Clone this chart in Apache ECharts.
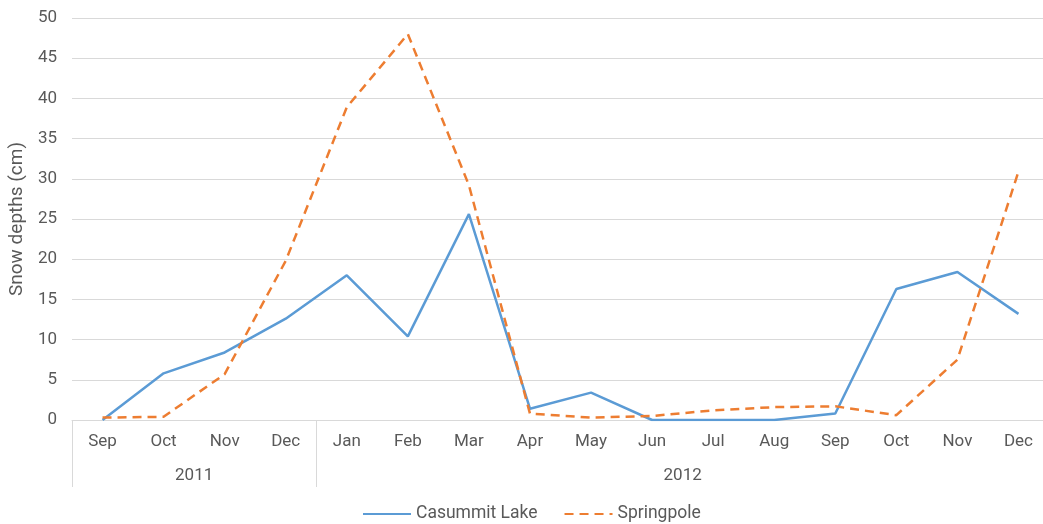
<!DOCTYPE html>
<html>
<head>
<meta charset="utf-8">
<script src="https://cdn.jsdelivr.net/npm/echarts@6/dist/echarts.min.js"></script>
<style>html,body{margin:0;padding:0;background:#fff}#c{width:1043px;height:524px}</style>
</head>
<body>
<div id="c"></div>
<script>
const months = ['Sep','Oct','Nov','Dec','Jan','Feb','Mar','Apr','May','Jun','Jul','Aug','Sep','Oct','Nov','Dec'];
const monthYears = ['2011','2011','2011','2011','2012','2012','2012','2012','2012','2012','2012','2012','2012','2012','2012','2012'];
const casummitLake = [0, 5.8, 8.4, 12.6, 18.0, 10.4, 25.6, 1.4, 3.4, 0, 0, 0, 0.8, 16.3, 18.4, 13.2];
const springpole = [0.3, 0.4, 5.7, 19.8, 38.9, 48.0, 29.2, 0.8, 0.3, 0.5, 1.2, 1.6, 1.7, 0.6, 7.5, 30.9];
const yTicks = {min: 0, max: 50, interval: 5};

// group boundaries for year level
const groups = [];
monthYears.forEach((y, i) => {
  if (!groups.length || groups[groups.length - 1].name !== y) groups.push({name: y, start: i, end: i + 1});
  else groups[groups.length - 1].end = i + 1;
});
const boundaries = [0].concat(groups.map(g => g.end));
const centers = groups.map(g => (g.start + g.end) / 2);

const textColor = '#595959';
const gridColor = '#D9D9D9';
const font = 'Roboto';

const chart = echarts.init(document.getElementById('c'), null, {renderer: 'canvas'});
chart.setOption({
  animation: false,
  textStyle: {fontFamily: font},
  grid: {left: 72, top: 18, width: 977, bottom: 104, containLabel: false, outerBoundsMode: 'none'},
  legend: {
    top: 505, left: 362, padding: 0, itemWidth: 48, itemHeight: 14, itemGap: 26,
    itemStyle: {opacity: 0},
    textStyle: {color: textColor, fontSize: 17.5, fontFamily: font},
    data: ['Casummit Lake', 'Springpole']
  },
  xAxis: [
    {
      type: 'category', data: months, boundaryGap: true,
      axisLine: {show: true, lineStyle: {color: gridColor, width: 1}},
      axisTick: {show: false},
      axisLabel: {color: textColor, fontSize: 17, margin: 13, interval: 0, fontFamily: font}
    },
    {
      type: 'value', min: 0, max: months.length, position: 'bottom',
      axisLine: {show: false},
      splitLine: {show: false},
      axisTick: {show: true, customValues: boundaries, length: 67, lineStyle: {color: gridColor, width: 1}},
      axisLabel: {
        show: true, customValues: centers, margin: 47, color: textColor, fontSize: 17, fontFamily: font,
        formatter: v => { const i = centers.indexOf(v); return i >= 0 ? groups[i].name : ''; }
      }
    }
  ],
  yAxis: {
    type: 'value', min: yTicks.min, max: yTicks.max, interval: yTicks.interval,
    name: 'Snow depths (cm)', nameLocation: 'middle', nameGap: 43, nameRotate: 90,
    nameTextStyle: {color: textColor, fontSize: 19, fontFamily: font},
    axisLine: {show: false}, axisTick: {show: false},
    axisLabel: {color: textColor, fontSize: 17, margin: 15, fontFamily: font},
    splitLine: {lineStyle: {color: gridColor, width: 1}}
  },
  series: [
    {
      name: 'Casummit Lake', type: 'line', data: casummitLake, xAxisIndex: 0,
      symbol: 'none', lineStyle: {color: '#5B9BD5', width: 2.5}, itemStyle: {color: '#5B9BD5'}
    },
    {
      name: 'Springpole', type: 'line', data: springpole, xAxisIndex: 0,
      symbol: 'none', lineStyle: {color: '#ED7D31', width: 2.5, type: [9, 6]}, itemStyle: {color: '#ED7D31'}
    }
  ]
});
</script>
</body>
</html>
